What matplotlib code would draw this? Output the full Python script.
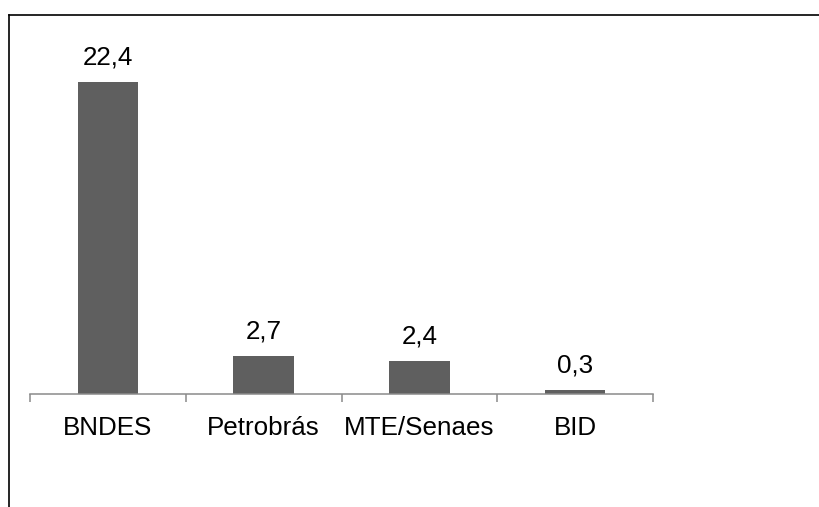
import matplotlib.pyplot as plt
from matplotlib.lines import Line2D
import numpy as np

plt.rcParams['font.family'] = ['Liberation Sans', 'DejaVu Sans']

# Data
categories = ['BNDES', 'Petrobrás', 'MTE/Senaes', 'BID']
values = [22.4, 2.7, 2.4, 0.3]
value_labels = ['22,4', '2,7', '2,4', '0,3']

W, H = 820, 507
fig = plt.figure(figsize=(W / 100, H / 100), dpi=100)

# axes placed by pixel coordinates of the reference
x0, x1 = 30, 653
y_base, y_top = 394, 15
ax = fig.add_axes([x0 / W, 1 - y_base / H, (x1 - x0) / W, (y_base - y_top) / H])

x = np.arange(len(categories))
ax.bar(x, values, width=0.39, color='#5f5f5f', zorder=2)

for xi, v, lab in zip(x, values, value_labels):
    ax.annotate(lab, (xi, v), xytext=(0, 12.5), textcoords='offset points',
                ha='center', va='baseline', fontsize=18.7, color='black')

px_per_unit = (394 - 81.7) / 22.4
ax.set_ylim(0, (y_base - y_top) / px_per_unit)
ax.set_xlim(-0.5, len(categories) - 0.5)

# category labels centred, ticks at category boundaries
ax.set_xticks(x)
ax.set_xticklabels(categories, fontsize=18.7)
ax.tick_params(axis='x', which='major', length=0, pad=16)
ax.set_xticks(np.arange(len(categories) + 1) - 0.5, minor=True)
ax.tick_params(axis='x', which='minor', length=6, width=1.1, color='#8a8a8a')
ax.set_yticks([])

for s in ['left', 'top', 'right']:
    ax.spines[s].set_visible(False)
ax.spines['bottom'].set_color('#8a8a8a')
ax.spines['bottom'].set_linewidth(1.1)

# outer chart frame (only left and top edges visible in the crop)
fig.add_artist(Line2D([9.5 / W, 9.5 / W], [0, 1 - 15 / H], color='black', lw=1.2))
fig.add_artist(Line2D([9.5 / W, 1], [1 - 15 / H, 1 - 15 / H], color='black', lw=1.2))

fig.savefig('out.png', dpi=100, facecolor='white')
